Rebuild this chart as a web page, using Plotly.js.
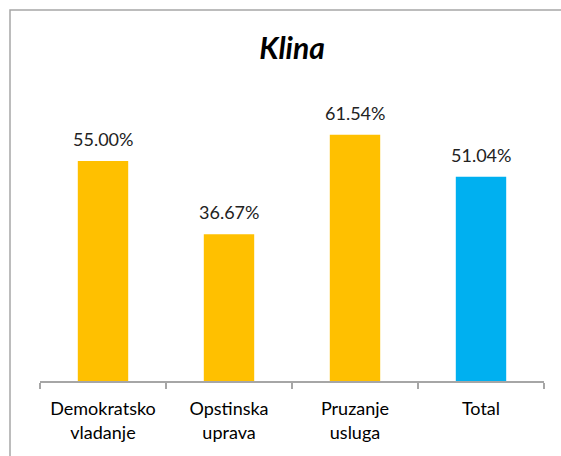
<!DOCTYPE html>
<html>
<head>
<meta charset="utf-8">
<script src="https://cdn.plot.ly/plotly-3.0.1.min.js"></script>
<style>html,body{margin:0;padding:0;background:#fff;}</style>
</head>
<body>
<div id="chart" style="width:561px;height:456px;"></div>
<script>
const categories = ["Demokratsko<br>vladanje", "Opstinska<br>uprava", "Pruzanje<br>usluga", "Total"];
const values = [0.55, 0.3667, 0.6154, 0.5104];
const barColors = ["#FFC000", "#FFC000", "#FFC000", "#00B0F0"];
const valueLabels = ["55.00%", "36.67%", "61.54%", "51.04%"];

const FONT = "Lato, 'Open Sans', sans-serif";
const L = 40, R = 544, T = 101, B = 381;
const PW = R - L, PH = B - T;

Plotly.newPlot("chart", [{
  type: "bar",
  x: categories,
  y: values,
  marker: {color: barColors},
  width: 0.4,
  hoverinfo: "none"
}], {
  width: 561, height: 456,
  margin: {l: L, r: 561 - R, t: T, b: 456 - B},
  paper_bgcolor: "#fff", plot_bgcolor: "#fff",
  showlegend: false,
  title: {
    text: "<b><i>Klina</i></b>",
    font: {family: FONT, size: 30, color: "#000"},
    x: 0.5, xanchor: "center", xref: "paper",
    y: 1 - 48 / 456, yref: "container", yanchor: "middle"
  },
  xaxis: {
    type: "category",
    showline: true, linecolor: "#a6a6a6", linewidth: 1.5,
    ticks: "outside", tickson: "boundaries", ticklen: 6, tickcolor: "#a6a6a6", tickwidth: 1.5,
    tickfont: {family: FONT, size: 18, color: "#000"},
    ticklabelstandoff: 11,
    showgrid: false, zeroline: false, fixedrange: true
  },
  yaxis: {
    range: [0, 0.7], visible: false, showgrid: false, zeroline: false, fixedrange: true
  },
  annotations: categories.map((c, i) => ({
    x: c, y: values[i], xref: "x", yref: "y",
    text: valueLabels[i], showarrow: false,
    xanchor: "center", yanchor: "bottom", yshift: 9,
    font: {family: FONT, size: 18, color: "#222"}
  })),
  shapes: [{
    type: "rect", xref: "paper", yref: "paper",
    x0: (10 - L) / PW, x1: (600 - L) / PW,
    y0: -(500 - B) / PH, y1: 1 + (T - 10) / PH,
    line: {color: "#a6a6a6", width: 1.5}, fillcolor: "rgba(0,0,0,0)", layer: "below"
  }]
}, {staticPlot: true});
</script>
</body>
</html>
